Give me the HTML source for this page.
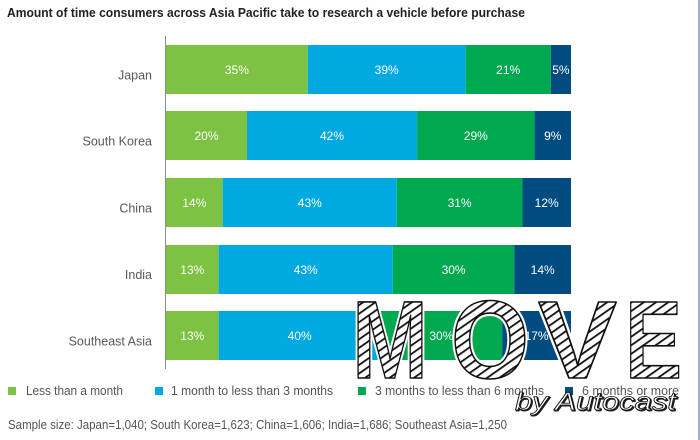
<!DOCTYPE html>
<html>
<head>
<meta charset="utf-8">
<style>
  html,body{margin:0;padding:0;background:#fff;}
  svg{display:block;}
  text{font-family:"Liberation Sans", sans-serif;}
</style>
</head>
<body>
<svg width="700" height="440" viewBox="0 0 700 440" xmlns="http://www.w3.org/2000/svg">
  <defs>
    <pattern id="hatch" patternUnits="userSpaceOnUse" width="7" height="7" patternTransform="rotate(-35)">
      <rect width="7" height="7" fill="#fff"/>
      <rect x="0" y="0" width="7" height="1.8" fill="#111"/>
    </pattern>
  </defs>
  <rect width="700" height="440" fill="#fff"/>
  <line x1="699" y1="0" x2="699" y2="440" stroke="#7a95c8" stroke-width="1.5"/>

  <!-- Title -->
  <text x="7" y="17" font-size="12.5" font-weight="bold" fill="#222" textLength="518" lengthAdjust="spacingAndGlyphs">Amount of time consumers across Asia Pacific take to research a vehicle before purchase</text>

  <!-- Axis -->
  <line x1="165.5" y1="36" x2="165.5" y2="369" stroke="#8a8a8a" stroke-width="1"/>

  <!-- Category labels -->
  <g font-size="12.5" fill="#595959" text-anchor="end">
    <text x="152" y="79.5">Japan</text>
    <text x="152" y="145.5">South Korea</text>
    <text x="152" y="212.5">China</text>
    <text x="152" y="279">India</text>
    <text x="152" y="345.5">Southeast Asia</text>
  </g>

  <!-- Bars -->
  <rect x="166" y="45" width="141.75" height="49" fill="#7dc242"/>
  <rect x="307.75" y="45" width="157.95" height="49" fill="#00a9e0"/>
  <rect x="465.7" y="45" width="85.05" height="49" fill="#00a94f"/>
  <rect x="550.75" y="45" width="20.25" height="49" fill="#004b80"/>

  <rect x="166" y="111" width="81" height="49" fill="#7dc242"/>
  <rect x="247" y="111" width="170.1" height="49" fill="#00a9e0"/>
  <rect x="417.1" y="111" width="117.45" height="49" fill="#00a94f"/>
  <rect x="534.55" y="111" width="36.45" height="49" fill="#004b80"/>

  <rect x="166" y="178" width="56.7" height="49" fill="#7dc242"/>
  <rect x="222.7" y="178" width="174.15" height="49" fill="#00a9e0"/>
  <rect x="396.85" y="178" width="125.55" height="49" fill="#00a94f"/>
  <rect x="522.4" y="178" width="48.6" height="49" fill="#004b80"/>

  <rect x="166" y="245" width="52.65" height="49" fill="#7dc242"/>
  <rect x="218.65" y="245" width="174.15" height="49" fill="#00a9e0"/>
  <rect x="392.8" y="245" width="121.5" height="49" fill="#00a94f"/>
  <rect x="514.3" y="245" width="56.7" height="49" fill="#004b80"/>

  <rect x="166" y="311" width="52.65" height="49" fill="#7dc242"/>
  <rect x="218.65" y="311" width="162" height="49" fill="#00a9e0"/>
  <rect x="380.65" y="311" width="121.5" height="49" fill="#00a94f"/>
  <rect x="502.15" y="311" width="68.85" height="49" fill="#004b80"/>

  <!-- Percent labels -->
  <g font-size="12" fill="#fff" text-anchor="middle">
    <text x="236.9" y="74">35%</text>
    <text x="386.7" y="74">39%</text>
    <text x="508.2" y="74">21%</text>
    <text x="560.9" y="74">5%</text>

    <text x="206.5" y="140">20%</text>
    <text x="332" y="140">42%</text>
    <text x="475.8" y="140">29%</text>
    <text x="552.8" y="140">9%</text>

    <text x="194.4" y="207">14%</text>
    <text x="309.8" y="207">43%</text>
    <text x="459.6" y="207">31%</text>
    <text x="546.7" y="207">12%</text>

    <text x="192.3" y="274">13%</text>
    <text x="305.7" y="274">43%</text>
    <text x="453.6" y="274">30%</text>
    <text x="542.7" y="274">14%</text>

    <text x="192.3" y="340">13%</text>
    <text x="299.7" y="340">40%</text>
    <text x="441.4" y="340">30%</text>
    <text x="536.6" y="340">17%</text>
  </g>

  <!-- Legend -->
  <rect x="8" y="387" width="8" height="8" fill="#7dc242"/>
  <rect x="155" y="387" width="8" height="8" fill="#00a9e0"/>
  <rect x="358" y="387" width="8" height="8" fill="#00a94f"/>
  <rect x="565" y="387" width="8" height="8" fill="#004b80"/>
  <g font-size="12.5" fill="#555">
    <text x="26" y="395" textLength="97" lengthAdjust="spacingAndGlyphs">Less than a month</text>
    <text x="171" y="395" textLength="162" lengthAdjust="spacingAndGlyphs">1 month to less than 3 months</text>
    <text x="375" y="395" textLength="169" lengthAdjust="spacingAndGlyphs">3 months to less than 6 months</text>
    <text x="582" y="395" textLength="97" lengthAdjust="spacingAndGlyphs">6 months or more</text>
  </g>

  <!-- Sample size -->
  <text x="8" y="429" font-size="12.5" fill="#555" textLength="499" lengthAdjust="spacingAndGlyphs">Sample size: Japan=1,040; South Korea=1,623; China=1,606; India=1,686; Southeast Asia=1,250</text>

  <!-- Watermark -->
  <g font-size="110" font-weight="bold" stroke-linejoin="round">
    <g fill="none" stroke="#fff" stroke-width="6">
      <text x="352" y="378" textLength="76" lengthAdjust="spacingAndGlyphs">M</text>
      <text x="451" y="378" textLength="78" lengthAdjust="spacingAndGlyphs">O</text>
      <text x="538" y="378" textLength="79" lengthAdjust="spacingAndGlyphs">V</text>
      <text x="625" y="378" textLength="57" lengthAdjust="spacingAndGlyphs">E</text>
    </g>
    <g fill="url(#hatch)" stroke="#111" stroke-width="1.6">
      <text x="352" y="378" textLength="76" lengthAdjust="spacingAndGlyphs">M</text>
      <text x="451" y="378" textLength="78" lengthAdjust="spacingAndGlyphs">O</text>
      <text x="538" y="378" textLength="79" lengthAdjust="spacingAndGlyphs">V</text>
      <text x="625" y="378" textLength="57" lengthAdjust="spacingAndGlyphs">E</text>
    </g>
  </g>
  <text x="516" y="411" font-size="25" font-style="italic" textLength="161" lengthAdjust="spacingAndGlyphs" fill="#222" stroke="#222" stroke-width="1">by Autocast</text>
  <text x="515" y="410" font-size="25" font-style="italic" textLength="161" lengthAdjust="spacingAndGlyphs" fill="#fff" stroke="#111" stroke-width="0.8">by Autocast</text>
</svg>
</body>
</html>
